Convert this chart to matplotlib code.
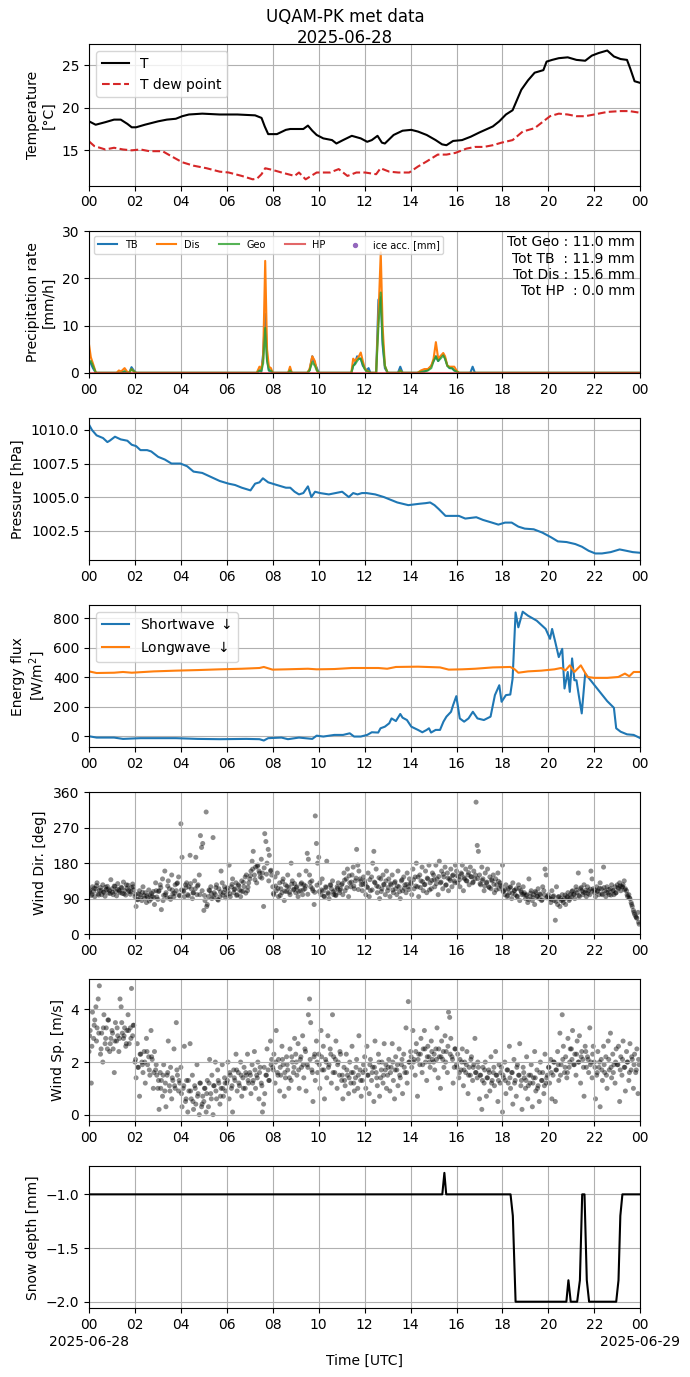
import matplotlib
matplotlib.use("Agg")
import matplotlib.pyplot as plt
import numpy as np

# ---- data (hours UTC) ----
day_label = "2025-06-28"
next_day = "2025-06-29"

t_hours = [0.0, 0.29, 0.71, 1.09, 1.38, 1.67, 1.86, 2.05, 2.43, 3.01, 3.39, 3.78, 4.06, 4.35,
           4.93, 5.69, 6.46, 7.23, 7.51, 7.65, 7.80, 8.18, 8.57, 8.76, 9.33, 9.53, 9.72, 9.91,
           10.20, 10.58, 10.77, 11.06, 11.44, 11.83, 12.11, 12.31, 12.56, 12.75, 12.88, 13.26,
           13.65, 14.03, 14.32, 14.70, 15.09, 15.37, 15.56, 15.85, 16.24, 16.62, 17.00, 17.58,
           17.86, 18.15, 18.44, 18.63, 18.82, 19.11, 19.40, 19.78, 19.92, 20.16, 20.45, 20.84,
           21.22, 21.60, 21.89, 22.18, 22.56, 22.85, 23.14, 23.42, 23.56, 23.75, 24.0]
temp = [18.4, 18.0, 18.3, 18.6, 18.6, 18.1, 17.7, 17.7, 18.0, 18.4, 18.6, 18.7, 19.0, 19.2,
        19.3, 19.2, 19.2, 19.1, 18.8, 17.8, 16.9, 16.9, 17.4, 17.5, 17.5, 17.9, 17.3, 16.8,
        16.4, 16.2, 15.8, 16.2, 16.7, 16.4, 16.0, 16.2, 16.7, 15.9, 15.8, 16.8, 17.3, 17.4,
        17.2, 16.8, 16.2, 15.7, 15.6, 16.1, 16.2, 16.6, 17.1, 17.8, 18.4, 19.2, 19.7, 20.9,
        22.1, 23.2, 24.1, 24.4, 25.4, 25.6, 25.8, 25.9, 25.6, 25.5, 26.1, 26.4, 26.7, 26.0,
        25.7, 25.6, 24.6, 23.1, 22.9]

td_hours = [0.0, 0.23, 0.71, 1.09, 1.48, 1.86, 2.24, 2.63, 3.20, 3.59, 4.06, 4.55, 5.12, 5.69,
            6.08, 6.65, 7.13, 7.32, 7.51, 7.67, 8.00, 8.38, 8.95, 9.14, 9.43, 9.91, 10.49,
            10.87, 11.25, 11.64, 12.02, 12.50, 12.69, 13.07, 13.46, 13.94, 14.32, 14.70, 15.18,
            15.56, 15.95, 16.43, 16.81, 17.19, 17.58, 17.96, 18.44, 18.88, 19.40, 19.78, 20.07,
            20.45, 20.84, 21.22, 21.60, 21.99, 22.56, 23.14, 23.52, 24.0]
tdew = [16.05, 15.5, 15.1, 15.3, 15.1, 15.0, 15.1, 14.9, 14.9, 14.3, 13.6, 13.2, 12.9, 12.5,
        12.4, 12.0, 11.6, 11.7, 12.2, 12.9, 12.7, 12.4, 12.0, 12.4, 11.6, 12.4, 12.4, 12.8,
        12.0, 12.4, 12.4, 12.2, 12.9, 12.5, 12.4, 12.4, 13.1, 13.7, 14.5, 14.5, 14.7, 15.2,
        15.4, 15.4, 15.6, 15.9, 16.2, 17.2, 17.6, 18.4, 19.0, 19.3, 19.2, 19.0, 19.0, 19.2,
        19.5, 19.6, 19.6, 19.4]

p_hours = [0.0, 0.08, 0.17, 0.3, 1.2, 1.3, 1.4, 1.55, 1.65, 1.75, 1.85, 1.95, 2.05, 7.3,
           7.42, 7.5, 7.58, 7.67, 7.75, 7.83, 7.92, 8.0, 8.67, 8.75, 8.83, 9.5, 9.6, 9.72,
           9.83, 9.92, 10.0, 11.42, 11.5, 11.58, 11.67, 11.75, 11.83, 11.92, 12.0, 12.08,
           12.17, 12.25, 12.5, 12.6, 12.7, 12.78, 12.88, 13.0, 13.45, 13.55, 13.65, 14.3,
           14.45, 14.6, 14.75, 14.9, 15.0, 15.1, 15.2, 15.3, 15.42, 15.5, 15.6, 15.7, 15.8,
           15.9, 16.0, 16.1, 16.6, 16.7, 16.8, 24.0]
rate_tb = [2.5, 2.0, 1.0, 0, 0, 0, 0, 0.3, 0, 0, 1.2, 0.5, 0, 0, 0.5, 0.3, 4.0, 12.5, 3.0,
           0.5, 0.3, 0, 0, 0.8, 0, 0, 0.5, 3.5, 2.0, 1.0, 0, 0, 1.5, 2.0, 3.5, 3.0, 3.0, 1.5,
           1.0, 0.5, 1.0, 0, 0, 15.5, 16.0, 6.0, 1.0, 0, 0, 1.3, 0, 0, 0.3, 0.3, 0.6, 1.5,
           2.5, 3.5, 2.5, 3.5, 4.0, 3.0, 1.5, 1.0, 1.0, 0.5, 0.3, 0, 0, 1.3, 0, 0]
rate_dis = [6.0, 3.3, 2.0, 0, 0, 0.5, 0.3, 1.0, 0.3, 0, 0.8, 0.3, 0, 0, 1.3, 0.8, 3.0, 23.7,
            5.0, 1.3, 1.0, 0, 0, 1.3, 0, 0, 0.8, 3.5, 2.5, 0.5, 0, 0, 3.0, 2.5, 3.0, 3.5, 4.3,
            2.5, 1.0, 0.5, 0.3, 0, 0, 12.0, 25.5, 10.0, 1.5, 0, 0, 0.5, 0, 0, 0.5, 0.8, 0.8,
            1.5, 3.0, 6.5, 3.0, 3.5, 4.2, 3.5, 1.5, 1.3, 1.3, 1.3, 0.5, 0, 0, 0, 0, 0]
rate_geo = [2.0, 2.5, 1.5, 0, 0, 0, 0, 0.3, 0, 0, 0.8, 0.3, 0, 0, 0.5, 0.3, 2.0, 9.5, 2.5,
            0.5, 0.5, 0, 0, 0.5, 0, 0, 0.5, 2.3, 1.5, 0.5, 0, 0, 1.5, 1.8, 2.5, 3.0, 3.0, 1.8,
            0.8, 0.3, 0.3, 0, 0, 10.0, 17.0, 7.0, 1.5, 0, 0, 0.5, 0, 0, 0.2, 0.3, 0.5, 1.0,
            2.5, 3.5, 2.5, 3.0, 3.7, 3.0, 1.5, 1.0, 1.0, 0.5, 0.3, 0, 0, 0, 0, 0]
hp_hours = [0.0, 24.0]
rate_hp = [0.0, 0.0]
ice_hours = []
ice_acc = []
tot_geo, tot_tb, tot_dis, tot_hp = 11.0, 11.9, 15.6, 0.0

pr_hours = [0.0, 0.13, 0.33, 0.61, 0.8, 0.9, 1.13, 1.38, 1.67, 1.86, 2.05, 2.24, 2.53, 2.71,
            3.01, 3.30, 3.59, 3.98, 4.27, 4.55, 4.93, 5.31, 5.69, 6.08, 6.36, 6.65, 7.03,
            7.23, 7.42, 7.57, 7.80, 8.18, 8.57, 8.76, 8.95, 9.14, 9.33, 9.53, 9.68, 9.84,
            10.06, 10.44, 10.73, 11.02, 11.31, 11.50, 11.69, 11.88, 12.08, 12.46, 12.84,
            13.13, 13.42, 13.90, 14.37, 14.66, 14.85, 15.04, 15.23, 15.52, 15.81, 16.10,
            16.38, 16.86, 17.15, 17.54, 17.82, 18.11, 18.40, 18.69, 18.97, 19.36, 19.74,
            20.12, 20.41, 20.79, 21.17, 21.46, 21.75, 22.04, 22.33, 22.71, 23.10, 23.39,
            23.67, 24.0]
pressure = [1010.4, 1010.0, 1009.6, 1009.4, 1009.1, 1009.2, 1009.5, 1009.3, 1009.2, 1008.9,
            1008.8, 1008.5, 1008.5, 1008.4, 1008.0, 1007.8, 1007.5, 1007.5, 1007.3, 1006.9,
            1006.8, 1006.5, 1006.2, 1006.0, 1005.9, 1005.7, 1005.5, 1006.0, 1006.1, 1006.4,
            1006.1, 1005.9, 1005.7, 1005.7, 1005.4, 1005.2, 1005.3, 1005.8, 1005.0, 1005.4,
            1005.3, 1005.2, 1005.3, 1005.4, 1005.0, 1005.3, 1005.2, 1005.3, 1005.3, 1005.2,
            1005.0, 1004.8, 1004.6, 1004.4, 1004.5, 1004.55, 1004.6, 1004.4, 1004.1, 1003.6,
            1003.6, 1003.6, 1003.4, 1003.5, 1003.3, 1003.1, 1002.95, 1003.1, 1003.1, 1002.8,
            1002.65, 1002.6, 1002.35, 1002.0, 1001.7, 1001.65, 1001.5, 1001.3, 1001.0, 1000.8,
            1000.8, 1000.9, 1001.1, 1001.0, 1000.9, 1000.85]

sw_hours = [0.0, 0.33, 1.09, 1.48, 2.24, 3.78, 4.73, 5.69, 6.84, 7.42,
            7.61, 7.80, 8.38, 8.66, 9.14, 9.72, 9.91, 10.20, 10.68, 11.06,
            11.35, 11.54, 11.83, 12.11, 12.31, 12.59, 12.69, 12.88, 13.07, 13.17,
            13.36, 13.55, 13.65, 13.84, 14.03, 14.32, 14.51, 14.70, 14.80, 14.89,
            15.09, 15.28, 15.43, 15.56, 15.76, 15.85, 15.99, 16.14, 16.33, 16.52,
            16.71, 16.91, 17.19, 17.48, 17.67, 17.86, 17.96, 18.15, 18.34, 18.44,
            18.57, 18.69, 18.88, 19.11, 19.49, 19.88, 20.07, 20.16, 20.30, 20.45,
            20.60, 20.70, 20.84, 20.93, 21.03, 21.13, 21.22, 21.32, 21.45, 21.60,
            21.89, 22.18, 22.56, 22.85, 22.95, 23.14, 23.42, 23.71, 24.0]
shortwave = [0, -9, -9, -18, -13, -13, -18, -20, -18, -20,
             -29, -13, -9, -20, -9, -18, 4, -2, 9, 9,
             20, -2, -2, 9, 27, 25, 54, 65, 88, 121,
             103, 151, 126, 110, 65, 43, 27, 43, 54, 25,
             43, 43, 99, 133, 166, 211, 272, 121, 99, 121,
             166, 121, 110, 133, 279, 346, 234, 279, 283, 391,
             840, 739, 845, 818, 784, 728, 661, 728, 638, 537,
             593, 324, 436, 301, 528, 380, 380, 279, 155, 425,
             369, 312, 238, 193, 54, 31, 13, 9, -13]
lw_hours = [0.0, 0.33, 1.09, 1.48, 1.86, 2.82, 3.78, 4.74, 5.69, 6.65, 7.42, 7.61, 7.99,
            8.57, 9.53, 9.91, 10.68, 11.44, 12.02, 12.60, 12.98, 13.36, 14.32, 15.28, 15.66,
            16.24, 16.81, 17.58, 18.34, 18.53, 18.69, 19.11, 19.69, 20.26, 20.55, 20.74,
            20.93, 21.13, 21.41, 21.70, 21.99, 22.56, 23.04, 23.33, 23.52, 23.71, 24.0]
longwave = [440, 429, 431, 436, 431, 440, 445, 449, 454, 458, 463, 470, 452, 454, 458, 454,
            456, 463, 463, 463, 458, 470, 472, 467, 452, 454, 458, 467, 470, 454, 431, 440,
            445, 454, 463, 447, 481, 436, 481, 402, 396, 396, 402, 425, 407, 436, 436]

# wind: main samples every 3 minutes, one row per hour
wind_dir = [
    105, 112, 98, 120, 108, 95, 115, 130, 102, 110, 118, 100, 125, 107, 96, 113, 121, 104, 110, 138,
    115, 100, 122, 108, 97, 128, 112, 105, 119, 103, 132, 110, 99, 116, 124, 108, 101, 118, 127, 112,
    95, 70, 88, 102, 110, 92, 85, 120, 98, 105, 80, 93, 112, 100, 89, 96, 108, 75, 130, 94,
    88, 110, 125, 62, 140, 98, 160, 105, 92, 135, 115, 88, 150, 102, 95, 125, 110, 130, 145, 97,
    280, 195, 110, 95, 125, 130, 100, 120, 200, 115, 90, 105, 135, 195, 100, 125, 150, 250, 220, 230,
    60, 85, 310, 75, 95, 110, 120, 90, 245, 105, 100, 125, 88, 115, 95, 160, 130, 105, 120, 92,
    100, 110, 175, 95, 120, 140, 105, 115, 130, 100, 125, 112, 95, 135, 108, 120, 145, 150, 110, 130,
    140, 160, 185, 210, 150, 170, 130, 175, 160, 145, 190, 155, 70, 255, 235, 180, 215, 200, 160, 150,
    120, 100, 145, 110, 155, 95, 130, 115, 105, 140, 85, 125, 108, 150, 118, 100, 180, 135, 112, 128,
    105, 120, 95, 150, 110, 130, 100, 125, 115, 160, 205, 190, 150, 120, 135, 110, 75, 300, 230, 180,
    195, 130, 100, 140, 110, 95, 120, 185, 105, 90, 125, 115, 135, 100, 110, 98, 120, 130, 105, 115,
    125, 100, 155, 110, 140, 165, 95, 130, 120, 150, 170, 115, 135, 215, 175, 160, 140, 125, 110, 145,
    135, 100, 120, 155, 95, 110, 145, 180, 210, 130, 165, 105, 120, 90, 140, 115, 150, 125, 100, 160,
    110, 140, 95, 125, 150, 105, 130, 115, 100, 160, 120, 90, 135, 110, 145, 125, 105, 155, 120, 140,
    130, 100, 165, 115, 145, 180, 120, 95, 150, 135, 170, 110, 125, 160, 105, 140, 175, 130, 115, 155,
    150, 120, 175, 140, 100, 185, 130, 160, 115, 145, 170, 125, 155, 110, 140, 165, 120, 150, 135, 175,
    160, 130, 145, 120, 155, 175, 110, 140, 165, 135, 150, 125, 170, 145, 130, 160, 140, 335, 225, 210,
    150, 125, 170, 140, 110, 155, 130, 165, 120, 145, 115, 135, 150, 105, 140, 125, 155, 115, 130, 120,
    175, 110, 100, 125, 95, 115, 105, 120, 90, 130, 110, 100, 115, 95, 125, 85, 110, 100, 120, 105,
    90, 100, 80, 140, 95, 110, 85, 100, 75, 105, 95, 115, 90, 100, 85, 120, 110, 165, 150, 95,
    100, 90, 80, 110, 95, 85, 35, 120, 75, 95, 70, 85, 100, 80, 90, 75, 95, 105, 85, 100,
    95, 110, 100, 90, 120, 105, 155, 95, 115, 110, 100, 125, 105, 95, 120, 110, 100, 160, 140, 115,
    105, 95, 120, 110, 100, 130, 115, 100, 170, 110, 95, 120, 105, 100, 115, 125, 110, 100, 120, 105,
    125, 115, 130, 110, 120, 125, 135, 115, 110, 95, 100, 90, 80, 70, 60, 50, 45, 40, 55, 25,
]
wind_sp = [
    2.4, 3.2, 1.2, 3.9, 2.9, 3.6, 4.1, 3.3, 4.4, 4.9, 2.3, 3.1, 2.0, 3.8, 2.7, 3.3, 2.5, 3.6, 2.4, 2.9,
    3.2, 2.5, 1.6, 3.5, 2.8, 3.0, 2.4, 4.4, 4.1, 3.1, 2.9, 3.3, 2.6, 3.2, 3.8, 2.7, 3.3, 4.8, 3.0, 3.4,
    2.0, 1.4, 2.7, 1.8, 0.7, 2.3, 2.0, 1.6, 2.4, 1.2, 2.9, 1.9, 2.2, 1.5, 3.2, 2.1, 1.0, 2.4, 1.7, 1.5,
    1.0, 0.2, 1.6, 1.3, 0.7, 1.9, 0.9, 0.3, 1.5, 2.8, 1.1, 1.8, 0.6, 1.3, 2.5, 1.0, 3.5, 1.5, 0.9, 1.2,
    1.8, 0.3, 1.0, 2.6, 0.5, 1.3, 0.1, 0.9, 2.7, 0.6, 1.5, 0.2, 1.1, 0.4, 1.9, 0.8, 0.0, 1.2, 0.3, 0.7,
    0.5, 1.0, 0.1, 1.3, 0.3, 2.1, 0.8, 1.5, 0.0, 1.1, 2.0, 0.6, 1.7, 1.2, 0.4, 1.0, 1.9, 0.7, 1.4, 0.9,
    1.2, 2.0, 0.6, 1.5, 1.0, 0.1, 1.7, 1.3, 2.3, 0.9, 1.6, 1.1, 2.0, 0.7, 1.4, 1.8, 1.0, 1.5, 2.3, 1.2,
    1.6, 0.8, 1.9, 1.3, 2.4, 1.0, 1.5, 2.0, 0.6, 1.8, 1.2, 0.1, 0.4, 0.8, 1.5, 2.5, 1.7, 1.3, 2.8, 2.1,
    1.8, 2.3, 1.2, 3.2, 1.6, 2.1, 0.9, 1.5, 2.6, 1.9, 0.7, 1.4, 2.2, 1.7, 1.0, 2.5, 1.3, 2.0, 1.6, 2.9,
    2.3, 1.5, 2.7, 1.0, 2.1, 1.8, 3.0, 1.4, 2.5, 0.9, 1.9, 3.8, 4.4, 3.5, 1.7, 0.5, 2.2, 1.3, 2.8, 1.6,
    2.3, 1.0, 3.2, 1.7, 2.6, 0.6, 2.1, 1.4, 3.0, 1.9, 2.5, 1.2, 3.8, 2.2, 1.6, 2.8, 1.0, 2.0, 1.5, 2.3,
    1.3, 0.6, 1.8, 1.1, 2.3, 1.5, 0.8, 2.0, 1.2, 2.6, 1.6, 0.9, 1.4, 2.1, 1.0, 3.0, 1.7, 0.7, 1.3, 1.9,
    2.2, 1.0, 2.6, 1.5, 0.8, 2.1, 1.3, 1.8, 0.5, 2.8, 1.6, 1.1, 2.3, 0.7, 1.4, 2.0, 1.2, 2.7, 1.7, 1.0,
    1.5, 2.1, 0.9, 1.8, 2.7, 1.3, 0.6, 2.2, 1.7, 1.1, 2.5, 1.4, 1.9, 0.8, 2.3, 1.6, 3.3, 1.2, 4.3, 2.0,
    2.4, 1.8, 3.2, 2.1, 1.5, 2.7, 0.7, 2.3, 1.9, 2.9, 1.6, 2.5, 3.2, 2.0, 1.3, 2.6, 2.2, 1.8, 2.8, 2.1,
    2.0, 1.7, 2.5, 3.3, 1.4, 2.2, 1.0, 2.8, 2.1, 1.8, 3.0, 2.4, 1.6, 3.9, 3.7, 2.9, 2.2, 1.2, 1.8, 2.5,
    1.9, 2.3, 1.4, 2.1, 1.7, 2.5, 1.1, 2.0, 1.6, 2.4, 0.8, 1.8, 1.5, 2.2, 1.3, 1.9, 2.9, 1.6, 1.4, 1.8,
    0.6, 1.5, 0.2, 1.8, 1.2, 2.0, 0.7, 1.4, 1.7, 0.9, 2.2, 1.3, 1.6, 1.1, 2.4, 1.5, 0.5, 1.9, 1.2, 1.8,
    0.1, 1.4, 2.0, 0.8, 1.7, 1.2, 2.6, 1.0, 1.6, 0.4, 2.1, 1.3, 0.7, 1.9, 1.5, 2.7, 1.1, 0.2, 1.8, 1.4,
    1.0, 2.2, 0.6, 1.5, 1.2, 1.9, 0.3, 1.4, 2.4, 0.9, 1.7, 1.1, 0.5, 2.0, 1.3, 1.6, 0.8, 2.3, 1.2, 1.5,
    1.8, 1.2, 2.1, 0.6, 1.5, 2.0, 0.5, 1.7, 2.4, 1.3, 3.1, 1.9, 3.8, 2.6, 1.6, 2.2, 1.4, 2.9, 1.8, 2.5,
    2.5, 3.2, 1.9, 2.3, 1.5, 2.8, 2.0, 3.0, 1.2, 2.4, 2.1, 0.7, 2.6, 1.8, 2.2, 1.6, 3.3, 2.0, 1.4, 2.6,
    2.0, 0.6, 1.5, 2.4, 1.8, 0.3, 2.1, 1.3, 2.6, 1.6, 2.2, 1.0, 2.8, 1.7, 3.1, 1.4, 2.3, 1.9, 1.2, 2.5,
    1.9, 2.6, 0.5, 2.2, 1.5, 2.8, 1.8, 0.9, 2.4, 2.0, 1.3, 2.7, 1.7, 2.1, 1.0, 2.3, 1.6, 2.5, 0.8, 1.9,
]
wind_hours = np.arange(len(wind_dir)) * 0.05

# extra wind samples in between (every 6 minutes, offset 1.5 min), one row per hour
wind_dir2 = [
    109, 101, 116, 123, 99, 111, 106, 119, 114, 103,
    106, 121, 114, 109, 117, 102, 125, 111, 107, 120,
    101, 87, 99, 106, 91, 97, 84, 103, 93, 110,
    108, 118, 85, 100, 122, 93, 112, 104, 128, 99,
    112, 108, 118, 97, 128, 104, 115, 122, 100, 110,
    98, 70, 112, 103, 94, 118, 86, 107, 99, 113,
    117, 102, 126, 113, 98, 122, 109, 131, 104, 119,
    148, 165, 138, 172, 155, 142, 168, 152, 135, 162,
    103, 122, 116, 98, 133, 109, 121, 106, 127, 114,
    118, 108, 127, 112, 122, 101, 131, 115, 106, 124,
    108, 112, 96, 118, 102, 124, 107, 99, 116, 111,
    128, 137, 118, 148, 132, 122, 142, 113, 135, 126,
    128, 118, 138, 112, 132, 122, 143, 108, 126, 135,
    118, 128, 112, 133, 122, 108, 138, 116, 126, 113,
    128, 138, 122, 145, 118, 133, 126, 142, 112, 136,
    138, 128, 146, 132, 152, 124, 142, 136, 148, 130,
    148, 138, 152, 143, 135, 156, 146, 132, 150, 141,
    128, 136, 122, 132, 118, 138, 126, 112, 134, 124,
    108, 113, 98, 118, 103, 111, 96, 116, 106, 101,
    98, 88, 104, 93, 108, 96, 102, 87, 99, 92,
    92, 88, 97, 83, 94, 90, 86, 99, 93, 89,
    108, 102, 112, 98, 118, 106, 111, 103, 114, 109,
    112, 108, 116, 102, 118, 106, 113, 99, 110, 104,
    118, 122, 120, 112, 100, 92, 75, 55, 42, 30,
]
wind_sp2 = [
    3.0, 2.6, 3.4, 2.8, 3.1, 2.5, 3.3, 2.9, 3.6, 2.7,
    3.1, 2.8, 3.3, 2.9, 3.5, 3.0, 2.7, 3.2, 2.9, 3.4,
    2.1, 1.8, 2.3, 1.9, 2.0, 2.4, 1.7, 2.2, 1.6, 1.9,
    1.3, 1.0, 1.5, 1.2, 1.6, 0.9, 1.4, 1.1, 1.7, 1.3,
    0.8, 1.1, 0.6, 1.3, 0.9, 0.5, 1.0, 0.7, 1.2, 0.4,
    1.0, 0.8, 1.2, 0.6, 1.1, 0.9, 1.3, 0.7, 1.0, 1.2,
    1.3, 1.6, 1.1, 1.4, 1.7, 1.2, 1.5, 1.0, 1.6, 1.3,
    1.5, 1.2, 1.7, 1.4, 1.6, 1.1, 1.8, 1.5, 1.3, 1.9,
    1.7, 2.0, 1.5, 1.8, 2.1, 1.6, 1.9, 1.4, 2.2, 1.8,
    2.0, 1.7, 2.2, 1.9, 2.4, 1.8, 2.1, 1.6, 2.3, 2.0,
    1.9, 2.2, 1.7, 2.0, 1.8, 2.3, 1.6, 2.1, 1.9, 2.4,
    1.5, 1.3, 1.7, 1.4, 1.6, 1.2, 1.8, 1.5, 1.3, 1.6,
    1.7, 1.5, 1.9, 1.6, 1.8, 1.4, 2.0, 1.7, 1.5, 1.9,
    1.8, 1.6, 2.0, 1.7, 1.9, 1.5, 2.1, 1.8, 1.6, 2.0,
    2.2, 2.0, 2.4, 2.1, 2.3, 1.9, 2.5, 2.2, 2.0, 2.4,
    2.3, 2.1, 2.5, 2.2, 2.4, 2.0, 2.6, 2.3, 2.1, 2.5,
    1.8, 1.6, 2.0, 1.7, 1.9, 1.5, 2.1, 1.8, 1.6, 2.0,
    1.5, 1.3, 1.7, 1.4, 1.6, 1.2, 1.8, 1.5, 1.3, 1.6,
    1.5, 1.3, 1.7, 1.4, 1.6, 1.2, 1.8, 1.5, 1.3, 1.6,
    1.3, 1.1, 1.5, 1.2, 1.4, 1.0, 1.6, 1.3, 1.1, 1.4,
    1.8, 1.6, 2.0, 1.7, 1.9, 1.5, 2.1, 1.8, 1.6, 2.0,
    2.1, 1.9, 2.3, 2.0, 2.2, 1.8, 2.4, 2.1, 1.9, 2.3,
    1.8, 1.6, 2.0, 1.7, 1.9, 1.5, 2.1, 1.8, 1.6, 2.0,
    1.9, 1.7, 2.1, 1.8, 2.0, 1.6, 2.2, 1.9, 1.7, 2.1,
]
wind_hours2 = 0.025 + np.arange(len(wind_dir2)) * 0.1

snow_hours = [0.0, 15.38, 15.47, 15.55, 18.35, 18.45, 18.57, 20.78, 20.87, 20.97, 21.25,
              21.37, 21.47, 21.57, 21.67, 21.77, 22.95, 23.05, 23.13, 23.22, 24.0]
snow_depth = [-1.0, -1.0, -0.8, -1.0, -1.0, -1.2, -2.0, -2.0, -1.8, -2.0, -2.0,
              -1.8, -1.0, -1.0, -1.8, -2.0, -2.0, -1.8, -1.2, -1.0, -1.0]

# ---- figure ----
fig, axs = plt.subplots(7, 1, figsize=(6.9, 13.77), dpi=100)
fig.subplots_adjust(left=0.129, right=0.928, top=0.968, bottom=0.05, hspace=0.32)
fig.suptitle("UQAM-PK met data\n" + day_label, y=0.994)

ax = axs[0]
ax.plot(t_hours, temp, color="k", label="T")
ax.plot(td_hours, tdew, color="tab:red", ls="--", label="T dew point")
ax.set_ylabel("Temperature\n[°C]")
ax.legend(loc="upper left")

ax = axs[1]
ax.plot(p_hours, rate_tb, color="tab:blue", label="TB")
ax.plot(p_hours, rate_dis, color="tab:orange", label="Dis")
ax.plot(p_hours, rate_geo, color="tab:green", alpha=0.8, label="Geo")
ax.plot(hp_hours, rate_hp, color="tab:red", alpha=0.7, label="HP")
ax.scatter(ice_hours, ice_acc, color="tab:purple", s=8, label="ice acc. [mm]")
ax.set_ylim(0, 30)
ax.set_ylabel("Precipitation rate\n[mm/h]")
ax.legend(loc="upper left", ncol=5, fontsize=7)
ax.text(0.99, 0.97,
        "Tot Geo : %.1f mm\nTot TB  : %.1f mm\nTot Dis : %.1f mm\nTot HP  : %.1f mm"
        % (tot_geo, tot_tb, tot_dis, tot_hp),
        transform=ax.transAxes, ha="right", va="top", multialignment="right")

ax = axs[2]
ax.plot(pr_hours, pressure, color="tab:blue")
ax.set_ylabel("Pressure [hPa]")
ax.set_yticks([1002.5, 1005.0, 1007.5, 1010.0])

ax = axs[3]
ax.plot(sw_hours, shortwave, color="tab:blue", label="Shortwave $\\downarrow$")
ax.plot(lw_hours, longwave, color="tab:orange", label="Longwave $\\downarrow$")
ax.set_ylabel("Energy flux\n[W/m$^2$]")
ax.legend(loc="upper left")

wh = np.concatenate([wind_hours, wind_hours2])
ax = axs[4]
ax.scatter(wh, wind_dir + wind_dir2, color="k", alpha=0.45, s=13, edgecolors="none")
ax.set_ylim(0, 360)
ax.set_yticks([0, 90, 180, 270, 360])
ax.set_ylabel("Wind Dir. [deg]")

ax = axs[5]
ax.scatter(wh, wind_sp + wind_sp2, color="k", alpha=0.45, s=13, edgecolors="none")
ax.set_ylabel("Wind Sp. [m/s]")

ax = axs[6]
ax.plot(snow_hours, snow_depth, color="k")
ax.set_ylabel("Snow depth [mm]")
ax.set_xlabel("Time [UTC]", labelpad=16)

ticks = list(range(0, 25, 2))
labels = ["%02d" % (h % 24) for h in ticks]
for ax in axs:
    ax.set_xlim(0, 24)
    ax.set_xticks(ticks)
    ax.set_xticklabels(labels)
    ax.grid(True)

# dates under the first and last tick of the bottom panel
for xpos, txt in [(0, day_label), (24, next_day)]:
    axs[6].annotate(txt, xy=(xpos, 0), xycoords=axs[6].get_xaxis_transform(),
                    xytext=(0, -19), textcoords="offset points",
                    ha="center", va="top", annotation_clip=False)

fig.savefig("out.png", dpi=100)
